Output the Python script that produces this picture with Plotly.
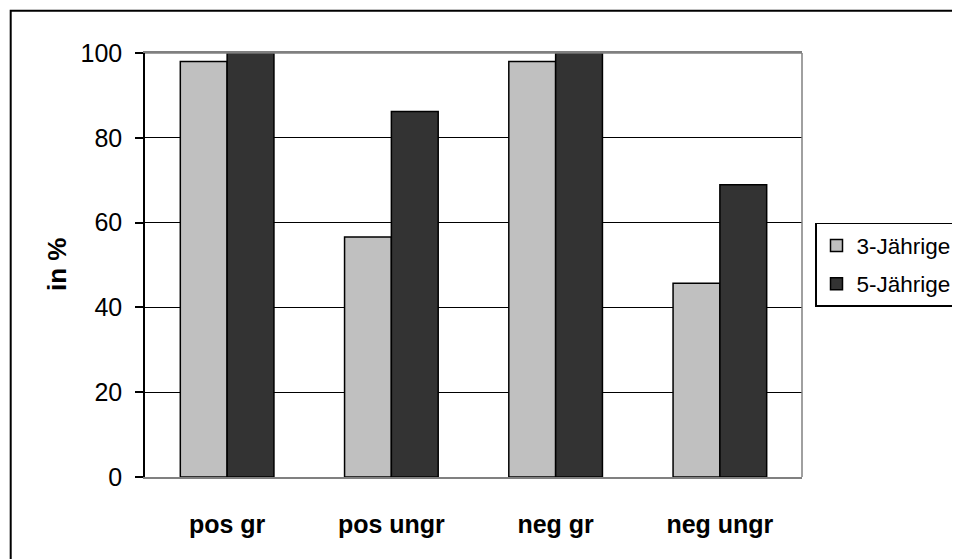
import plotly.graph_objects as go

categories = ["pos gr", "pos ungr", "neg gr", "neg ungr"]
series_names = ["3-Jährige", "5-Jährige"]
values_3 = [98, 56.6, 98, 45.7]
values_5 = [100, 86.2, 100, 68.9]
y_ticks = [0, 20, 40, 60, 80, 100]
y_title = "in %"

FONT = "Arial, Liberation Sans, sans-serif"
OFF = 8  # page body margin
W, H = 960 - OFF, 559 - OFF
# target page-pixel positions of the plot area
PL, PR, PT, PB = 145, 802, 53, 476.7
L = PL - OFF
R = W - (PR - OFF)
T = PT - OFF
B = H - (PB - OFF)
pw = PR - PL
ph = PB - PT

fig = go.Figure()
fig.add_trace(go.Bar(
    x=categories, y=values_3, name=series_names[0], legendgroup="a",
    marker=dict(color="#C0C0C0", line=dict(color="black", width=1.5)),
))
fig.add_trace(go.Bar(
    x=categories, y=values_5, name=series_names[1], legendgroup="b",
    marker=dict(color="#333333", line=dict(color="black", width=1.5)),
))

def px_x(p):
    return (p - PL) / pw

def px_y(p):
    return (PB - p) / ph

fig.update_layout(
    width=W, height=H,
    margin=dict(l=L, r=R, t=T, b=B, autoexpand=False),
    paper_bgcolor="white", plot_bgcolor="white",
    barmode="group", bargap=0.43, bargroupgap=0,
    font=dict(family=FONT, size=25, color="black"),
    showlegend=True,
    legend=dict(
        x=px_x(815), y=px_y(222.7), xanchor="left", yanchor="top",
        bordercolor="black", borderwidth=1.5, bgcolor="white",
        font=dict(family=FONT, size=22.5, color="black"),
        tracegroupgap=6, itemwidth=30,
    ),
    xaxis=dict(
        showline=True, linecolor="#808080", linewidth=1.5, mirror=True,
        ticks="", showgrid=False, tickfont=dict(family=FONT, size=25, color="black", weight="bold"),
        ticklabelstandoff=24,
    ),
    yaxis=dict(
        range=[0, 100], tickvals=y_ticks, showline=True, linecolor="black", linewidth=1.5,
        ticks="outside", ticklen=8, tickwidth=1.5, tickcolor="black",
        showgrid=True, gridcolor="black", gridwidth=1.2, zeroline=False,
        tickfont=dict(family=FONT, size=25, color="black"), ticklabelstandoff=8,
    ),
    shapes=[
        dict(type="line", xref="paper", yref="paper", x0=0, x1=1, y0=1, y1=1,
             line=dict(color="#808080", width=1.5), layer="above"),
        dict(type="line", xref="paper", yref="paper", x0=1, x1=1, y0=0, y1=1,
             line=dict(color="#808080", width=1.5), layer="above"),
        dict(type="rect", xref="paper", yref="paper",
             x0=px_x(10.7), x1=px_x(975), y0=px_y(10.7), y1=px_y(575),
             line=dict(color="black", width=2), fillcolor="rgba(0,0,0,0)", layer="below"),
    ],
    annotations=[
        dict(text="<b>" + y_title + "</b>", xref="paper", yref="paper",
             x=px_x(57), y=0.5, xanchor="center", yanchor="middle",
             textangle=-90, showarrow=False, font=dict(family=FONT, size=26, color="black")),
    ],
)

fig.write_html("out.html")
